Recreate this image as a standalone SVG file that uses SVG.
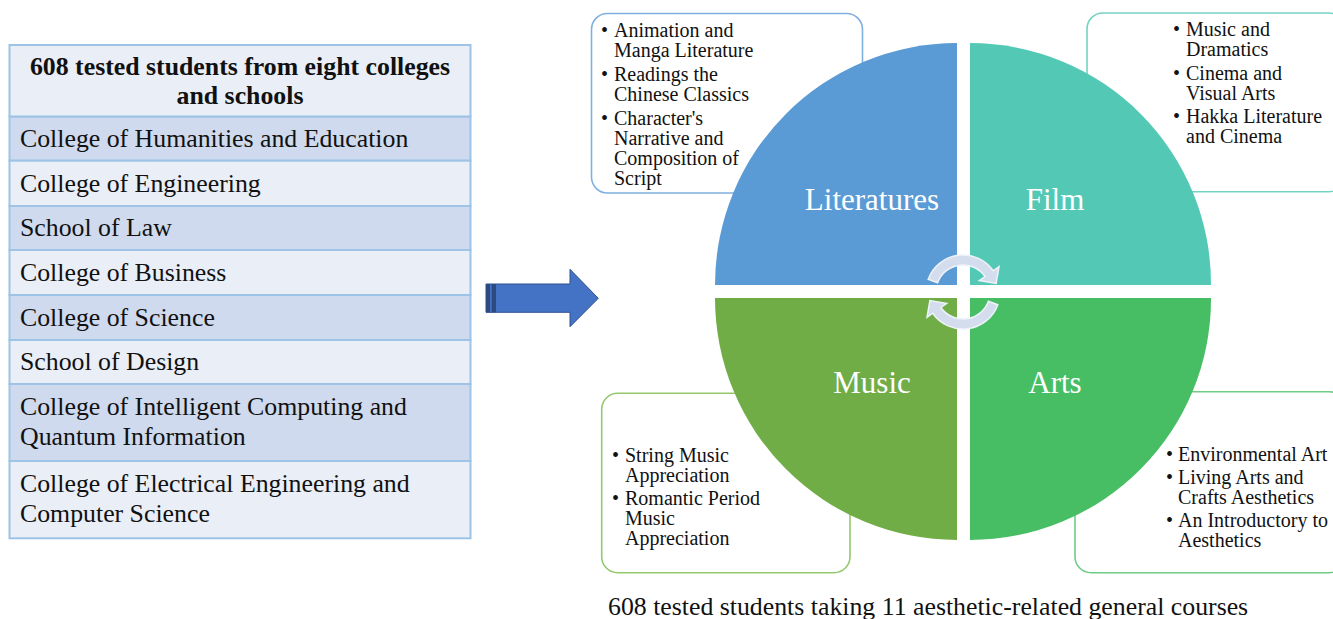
<svg xmlns="http://www.w3.org/2000/svg" width="1333" height="619" viewBox="0 0 1333 619">
  <style>
    text { font-family: "Liberation Serif", "Times New Roman", serif; fill: #111; }
    .row-dark { fill: #cfdaee; stroke: #9dc3e6; stroke-width: 2; }
    .row-light { fill: #e9eef7; stroke: #9dc3e6; stroke-width: 2; }
    .cell { font-size: 25.8px; }
    .head { font-size: 25.8px; font-weight: bold; text-anchor: middle; }
    .item { font-size: 20px; }
    .quad-label { font-size: 31px; fill: #fff; text-anchor: middle; }
    .box { fill: #fff; stroke-width: 1.6; }
    .cycle { fill: #d3ddee; stroke: #eef2f9; stroke-width: 1.5; }
  </style>

  <!-- College table -->
  <g id="college-table">
    <rect class="row-light" x="9.5" y="45" width="461" height="71.7"/>
    <text class="head" x="240" y="75">608 tested students from eight colleges</text>
    <text class="head" x="240" y="104">and schools</text>
    <rect class="row-dark" x="9.5" y="116.7" width="461" height="44"/>
    <text class="cell" x="20" y="147">College of Humanities and Education</text>
    <rect class="row-light" x="9.5" y="160.7" width="461" height="45.3"/>
    <text class="cell" x="20" y="192">College of Engineering</text>
    <rect class="row-dark" x="9.5" y="206" width="461" height="44"/>
    <text class="cell" x="20" y="236">School of Law</text>
    <rect class="row-light" x="9.5" y="250" width="461" height="45"/>
    <text class="cell" x="20" y="281">College of Business</text>
    <rect class="row-dark" x="9.5" y="295" width="461" height="45"/>
    <text class="cell" x="20" y="326">College of Science</text>
    <rect class="row-light" x="9.5" y="340" width="461" height="44"/>
    <text class="cell" x="20" y="370">School of Design</text>
    <rect class="row-dark" x="9.5" y="384" width="461" height="77"/>
    <text class="cell" x="20" y="415">College of Intelligent Computing and</text>
    <text class="cell" x="20" y="445">Quantum Information</text>
    <rect class="row-light" x="9.5" y="461" width="461" height="77.3"/>
    <text class="cell" x="20" y="492">College of Electrical Engineering and</text>
    <text class="cell" x="20" y="522">Computer Science</text>
  </g>

  <!-- Block arrow between table and course wheel -->
  <g id="connectors">
    <polygon points="486,284 570,284 570,269.3 598.3,298.3 570,326.7 570,312.3 486,312.3" fill="#4472c4" stroke="#2f528f" stroke-width="1"/>
    <rect x="486" y="284" width="4" height="28.3" fill="#2c4a80"/>
    <rect x="491.7" y="284" width="4.3" height="28.3" fill="#2c4a80"/>
  </g>

  <!-- Course lists -->
  <g id="literatures-courses">
    <rect class="box" x="591.5" y="13.5" width="271" height="179.5" rx="16" stroke="#7fb0e0"/>
    <g class="item">
      <text x="601" y="37">•</text><text x="614" y="37">Animation and</text>
      <text x="614" y="57">Manga Literature</text>
      <text x="601" y="81">•</text><text x="614" y="81">Readings the</text>
      <text x="614" y="101">Chinese Classics</text>
      <text x="601" y="125">•</text><text x="614" y="125">Character's</text>
      <text x="614" y="145">Narrative and</text>
      <text x="614" y="165">Composition of</text>
      <text x="614" y="185">Script</text>
    </g>
  </g>

  <g id="film-courses">
    <rect class="box" x="1087" y="13" width="258" height="178.7" rx="16" stroke="#74d3c3"/>
    <g class="item">
      <text x="1173" y="36">•</text><text x="1186" y="36">Music and</text>
      <text x="1186" y="56">Dramatics</text>
      <text x="1173" y="80">•</text><text x="1186" y="80">Cinema and</text>
      <text x="1186" y="100">Visual Arts</text>
      <text x="1173" y="123">•</text><text x="1186" y="123">Hakka Literature</text>
      <text x="1186" y="143">and Cinema</text>
    </g>
  </g>

  <g id="music-courses">
    <rect class="box" x="601.7" y="393.3" width="248.3" height="179.4" rx="16" stroke="#93c86f"/>
    <g class="item">
      <text x="612" y="462">•</text><text x="625" y="462">String Music</text>
      <text x="625" y="482">Appreciation</text>
      <text x="612" y="505">•</text><text x="625" y="505">Romantic Period</text>
      <text x="625" y="525">Music</text>
      <text x="625" y="545">Appreciation</text>
    </g>
  </g>

  <g id="arts-courses">
    <rect class="box" x="1075" y="391.7" width="270" height="181" rx="16" stroke="#6fcc85"/>
    <g class="item">
      <text x="1166" y="461">•</text><text x="1178" y="461">Environmental Art</text>
      <text x="1166" y="484">•</text><text x="1178" y="484">Living Arts and</text>
      <text x="1178" y="504">Crafts Aesthetics</text>
      <text x="1166" y="527">•</text><text x="1178" y="527">An Introductory to</text>
      <text x="1178" y="547">Aesthetics</text>
    </g>
  </g>

  <!-- Four-quadrant course wheel -->
  <g id="literatures">
    <path d="M957,285 L715,285 A242,242 0 0 1 957,43 Z" fill="#5b9bd5"/>
    <text class="quad-label" x="872" y="210">Literatures</text>
  </g>
  <g id="film">
    <path d="M970,285 L970,43 A241,241 0 0 1 1211,285 Z" fill="#53c9b5"/>
    <text class="quad-label" x="1055" y="210">Film</text>
  </g>
  <g id="music">
    <path d="M957,298 L957,540 A242,242 0 0 1 715,298 Z" fill="#70ad47"/>
    <text class="quad-label" x="872" y="393">Music</text>
  </g>
  <g id="arts">
    <path d="M970,298 L1211,298 A241,241 0 0 1 970,540 Z" fill="#48be64"/>
    <text class="quad-label" x="1055" y="393">Arts</text>
  </g>

  <!-- Circular cycle arrows at the wheel centre -->
  <g id="cycle-arrows">
    <path id="cycle-top" class="cycle" d="M928.2,279.3 A37,37 0 0 1 993.3,270.8 L999,266.7 L996.1,283.4 L979.4,280.5 L985.1,276.5 A27,27 0 0 0 937.6,282.8 Z"/>
    <path class="cycle" transform="rotate(180 963 292)" d="M928.2,279.3 A37,37 0 0 1 993.3,270.8 L999,266.7 L996.1,283.4 L979.4,280.5 L985.1,276.5 A27,27 0 0 0 937.6,282.8 Z"/>
  </g>

  <text id="caption" x="608" y="615" style="font-size:25.8px">608 tested students taking 11 aesthetic-related general courses</text>
</svg>
